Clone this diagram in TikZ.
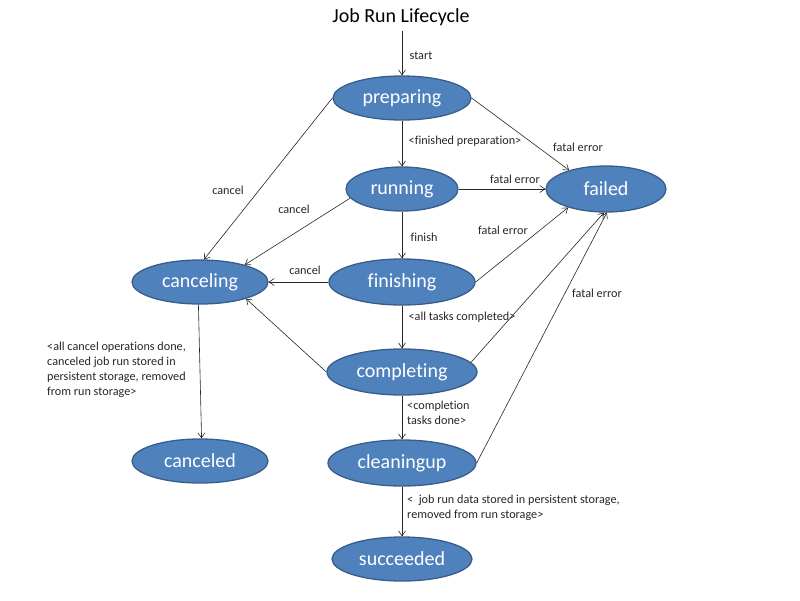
\documentclass[tikz,border=0pt]{standalone}
\usepackage{fontspec}
\setmainfont[Ligatures={NoCommon}]{Carlito}
\usetikzlibrary{shapes.geometric,arrows.meta}
\definecolor{stfill}{HTML}{4F81BD}
\definecolor{stdraw}{HTML}{385D8A}
\tikzset{
  state/.style={ellipse, fill=stfill, draw=stdraw, line width=1.3pt, inner sep=0pt,
     minimum height=44pt, text=white, font=\fontsize{20}{22}\selectfont},
  conn/.style={-{Straight Barb[length=5pt,width=7pt]}, line width=0.6pt, draw=black!85},
  lbl/.style={font=\fontsize{12.2}{15}\selectfont, inner sep=0pt, text=black!85},
  lbll/.style={lbl, align=left, anchor=west},
}
\begin{document}
\begin{tikzpicture}[x=1pt,y=-1pt]
\useasboundingbox (0,0) rectangle (800,600);
\node[font=\fontsize{20}{22}\selectfont] (title) at (401,17) {Job Run Lifecycle};
\coordinate (startpt) at (402,31);
\node[state, minimum width=138pt] (preparing) at (402,98) {preparing};
\node[state, minimum width=112pt] (running) at (402,189) {running};
\node[state, minimum width=120pt, minimum height=46pt] (failed) at (606,189) {failed};
\node[state, minimum width=136pt] (canceling) at (200,282) {canceling};
\node[state, minimum width=146pt, minimum height=46pt] (finishing) at (402,282) {finishing};
\node[state, minimum width=150pt, minimum height=46pt] (completing) at (402,372) {completing};
\node[state, minimum width=136pt] (canceled) at (200,461) {canceled};
\node[state, minimum width=148pt, minimum height=46pt] (cleaningup) at (402,463) {cleaningup};
\node[state, minimum width=140pt] (succeeded) at (402,559) {succeeded};

\draw[conn] (startpt) -- (preparing.north);
\draw[conn] (preparing.south) -- (running.north);
\draw[conn] (preparing.east) -- (failed.153);
\draw[conn] (preparing.west) -- (canceling.80);
\draw[conn] (running.east) -- (failed.west);
\draw[conn] (running.190) -- (canceling.21);
\draw[conn] (running.south) -- (finishing.north);
\draw[conn] (finishing.east) -- (failed.206);
\draw[conn] (finishing.west) -- (canceling.east);
\draw[conn] (finishing.south) -- (completing.north);
\draw[conn] (completing.west) -- (canceling.340);
\draw[conn] (completing.8) -- (failed.265);
\draw[conn] (completing.south) -- (cleaningup.north);
\draw[conn] (cleaningup.east) -- (failed.272);
\draw[conn] (cleaningup.south) -- (succeeded.north);
\draw[conn] (canceling.266) -- (canceled.86);

\node[lbl] (l1) at (421,56) {start};
\node[lbl] (l2) at (465,141) {<finished preparation>};
\node[lbl] (l3) at (578,147) {fatal error};
\node[lbl] (l4) at (228,190) {cancel};
\node[lbl] (l5) at (515,179) {fatal error};
\node[lbl] (l6) at (294,209) {cancel};
\node[lbl] (l7) at (424,237) {finish};
\node[lbl] (l8) at (503,230) {fatal error};
\node[lbl] (l9) at (305,270) {cancel};
\node[lbl] (l10) at (462,317) {<all tasks completed>};
\node[lbl] (l11) at (597,293) {fatal error};
\node[lbll] (l12) at (407,413) {<completion\\ tasks done>};
\node[lbll] (l13) at (407,508) {<\ \ job run data stored in persistent storage,\\removed from run storage>};
\node[lbll] (l14) at (47,370) {<all cancel operations done,\\canceled job run stored in\\persistent storage, removed\\from run storage>};
\end{tikzpicture}
\end{document}
